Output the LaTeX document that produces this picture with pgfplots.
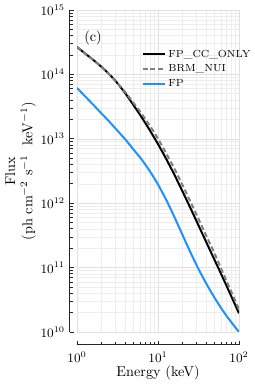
\documentclass[border=0pt]{standalone}
\usepackage{pgfplots}
\pgfplotsset{compat=1.18}
\definecolor{fpblue}{RGB}{30,144,255}
\definecolor{brmgray}{RGB}{128,128,128}
\begin{document}
\begin{tikzpicture}
\useasboundingbox (-53.9pt,-37.8pt) rectangle (123.9pt,232.4pt);
\begin{axis}[
  at={(0pt,0pt)}, anchor=south west,
  scale only axis, width=113.4pt, height=225.4pt,
  xmode=log, ymode=log, xmin=1, xmax=100, ymin=1e10, ymax=1e15,
  axis line style={draw=none},
  tick style={draw=none},
  xticklabel=\empty, yticklabel=\empty,
  grid=both,
  major grid style={black!12, line width=0.4pt},
  minor grid style={black!7, line width=0.4pt},
  legend style={at={(0.37,0.895)}, anchor=north west, draw=none, fill=none,
    font=\fontsize{7.2}{8}\selectfont, row sep=0pt},
  legend cell align=left,
  legend image code/.code={\draw[#1] (0pt,0pt) -- (15.4pt,0pt);},
  clip=true,
]
\addplot[black, line width=1.4pt, smooth] coordinates {
(1,2.661e14) (1.259,2.113e14) (1.585,1.679e14) (1.995,1.315e14) (2.512,1.0e14)
(3.162,7.278e13) (3.981,5.012e13) (5.012,3.296e13) (6.310,2.138e13) (7.943,1.349e13)
(10,8.279e12) (12.59,4.898e12) (15.85,2.805e12) (19.95,1.549e12) (25.12,8.414e11)
(31.62,4.519e11) (39.81,2.421e11) (50.12,1.300e11) (63.10,6.982e10) (79.43,3.70e10)
(100,1.95e10)};
\addlegendentry{FP\_CC\_ONLY}
\addplot[brmgray, line width=1.4pt, dash pattern=on 3.5pt off 2pt, smooth] coordinates {
(1,2.661e14) (1.259,2.113e14) (1.585,1.679e14) (1.995,1.315e14) (2.512,1.0e14)
(3.162,7.278e13) (3.981,5.224e13) (5.012,3.581e13) (6.310,2.427e13) (7.943,1.592e13)
(10,1.002e13) (12.59,5.984e12) (15.85,3.467e12) (19.95,1.941e12) (25.12,1.059e12)
(31.62,5.689e11) (39.81,3.048e11) (50.12,1.637e11) (63.10,8.414e10) (79.43,4.355e10)
(100,2.239e10)};
\addlegendentry{BRM\_NUI}
\addplot[fpblue, line width=1.4pt, smooth] coordinates {
(1,6.152e13) (1.259,4.560e13) (1.585,3.381e13) (1.995,2.495e13) (2.512,1.841e13)
(3.162,1.334e13) (3.981,9.661e12) (5.012,6.761e12) (6.310,4.732e12) (7.943,3.133e12)
(10,1.950e12) (12.59,1.135e12) (15.85,6.209e11) (19.95,3.273e11) (25.12,1.730e11)
(31.62,9.506e10) (39.81,5.534e10) (50.12,3.373e10) (63.10,2.153e10) (79.43,1.445e10)
(100,1.0e10)};
\addlegendentry{FP}
\node at (rel axis cs:0.099,0.913) {(c)};
\end{axis}
% y spine
\begin{axis}[
  at={(-4.9pt,0pt)}, anchor=south west,
  scale only axis, width=113.4pt, height=225.4pt,
  ymode=log, ymin=1e10, ymax=1e15, xmin=0, xmax=1,
  axis y line=left, axis x line=none,
  axis line style={-, line width=0.7pt, black!85},
  tick align=inside,
  major tick length=3pt, minor tick length=2pt,
  tick style={line width=0.5pt, black!85},
  yticklabel style={font=\fontsize{9}{10}\selectfont},
]
\end{axis}
% x spine
\begin{axis}[
  at={(0pt,-9.1pt)}, anchor=south west,
  scale only axis, width=113.4pt, height=225.4pt,
  xmode=log, xmin=1, xmax=100, ymin=0, ymax=1,
  axis x line=bottom, axis y line=none,
  axis line style={-, line width=0.7pt, black!85},
  tick align=inside,
  major tick length=3pt, minor tick length=2pt,
  tick style={line width=0.5pt, black!85},
  xticklabel style={font=\fontsize{9}{10}\selectfont, yshift=-1.2pt},
]
\end{axis}
\node[rotate=90, align=center] at (-39.5pt,112.7pt) {Flux\\(ph cm$^{-2}$ s$^{-1}$ \ keV$^{-1}$)};
\node at (56.7pt,-28.7pt) {Energy (keV)};
\end{tikzpicture}
\end{document}
